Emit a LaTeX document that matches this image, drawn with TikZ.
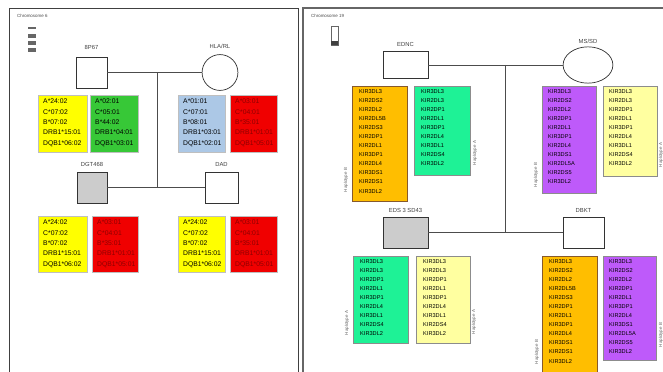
\documentclass[tikz,border=0pt]{standalone}
\usepackage{fontspec}
\setmainfont{Liberation Sans}
\usetikzlibrary{shapes.geometric, positioning}
\definecolor{hlayel}{RGB}{255,255,0}
\definecolor{hlagrn}{RGB}{55,200,55}
\definecolor{hlablu}{RGB}{172,200,230}
\definecolor{hlared}{RGB}{240,0,0}
\definecolor{kirorg}{RGB}{255,190,0}
\definecolor{kirtel}{RGB}{30,242,150}
\definecolor{kirpur}{RGB}{190,90,250}
\definecolor{kirlyl}{RGB}{255,255,160}

\begin{document}
\begin{tikzpicture}[x=0.03cm, y=-0.03cm, font=\fontsize{5}{6}\selectfont,
  pedline/.style={draw=black!70, line width=0.7pt},
  person/.style={draw=black!80, line width=0.6pt, fill=white, inner sep=0pt},
  hlabox/.style={draw=black!25, line width=0.3pt},
  kirbox/.style={draw=black!45, line width=0.4pt},
  hlarows/.style={anchor=north west, align=left, inner sep=0pt, font=\fontsize{5.8}{8.8}\selectfont},
  kirrows/.style={anchor=north west, align=left, inner sep=0pt, font=\fontsize{4.8}{7.75}\selectfont},
  vlab/.style={rotate=90, text=black!60, font=\fontsize{3.8}{4}\selectfont, inner sep=0pt},
  plab/.style={text=black!75, inner sep=0pt, font=\fontsize{5}{6}\selectfont}]
\useasboundingbox (0,0) rectangle (663,372);
% panels
\draw[black!75, line width=0.8pt] (9,372) -- (9,8) -- (298,8) -- (298,372);
\draw[black!60, line width=1.2pt] (303,372) -- (303,8) -- (663,8);
\node[anchor=west, text=black!70, font=\fontsize{3.8}{4}\selectfont] (t6) at (13,16) {Chromosome 6};
\node[anchor=west, text=black!70, font=\fontsize{3.8}{4}\selectfont] (t19) at (307,16) {Chromosome 19};
% legends
\fill[black!60] (28,27) rectangle (36,29);
\fill[black!60] (28,34) rectangle (36,38);
\fill[black!60] (28,41) rectangle (36,45);
\fill[black!60] (28,48) rectangle (36,52);
\draw[black!60, line width=0.4pt] (331,26) rectangle (338,45);
\fill[black!75] (331,41) rectangle (338,45);

%% Chromosome 6 (HLA)
\node[person, minimum width=26.4pt, minimum height=26.4pt] (fa6) at (91.5,72.5) {};
\node[person, circle, minimum size=30.6pt] (mo6) at (220,72.5) {};
\node[person, fill=black!20, minimum width=25.5pt, minimum height=26.4pt] (ch6a) at (92,187.5) {};
\node[person, minimum width=28pt, minimum height=26.4pt] (ch6b) at (221.5,187.5) {};
\node[plab, above=6pt of fa6] (fa6l) {8P67};
\node[plab, above=5pt of mo6] (mo6l) {HLA/RL};
\node[plab, above=4pt of ch6a] (ch6al) {DGT468};
\node[plab, above=4pt of ch6b] (ch6bl) {DAD};
\coordinate (top6) at (157,72.5);
\coordinate (bot6) at (157,187.5);
\draw[pedline] (fa6) -- (mo6);
\draw[pedline] (top6) -- (bot6);
\draw[pedline] (ch6a) -- (ch6b);

\draw[hlabox, fill=hlayel] (38,95) rectangle (87,152);
\node[hlarows] (fa6a) at (43,99) {A*24:02\\C*07:02\\B*07:02\\DRB1*15:01\\DQB1*06:02};
\draw[hlabox, fill=hlagrn] (90,95) rectangle (138,152);
\node[hlarows] (fa6b) at (95,99) {A*02:01\\C*05:01\\B*44:02\\DRB1*04:01\\DQB1*03:01};
\draw[hlabox, fill=hlablu] (178,95) rectangle (225,152);
\node[hlarows] (mo6a) at (183,99) {A*01:01\\C*07:01\\B*08:01\\DRB1*03:01\\DQB1*02:01};
\draw[hlabox, fill=hlared] (230,95) rectangle (277,152);
\node[hlarows, text=red!55!black] (mo6b) at (235,99) {A*03:01\\C*04:01\\B*35:01\\DRB1*01:01\\DQB1*05:01};

\draw[hlabox, fill=hlayel] (38,216) rectangle (87,272);
\node[hlarows] (ch6aa) at (43,220) {A*24:02\\C*07:02\\B*07:02\\DRB1*15:01\\DQB1*06:02};
\draw[hlabox, fill=hlared] (92,216) rectangle (138,272);
\node[hlarows, text=red!55!black] (ch6ab) at (97,220) {A*03:01\\C*04:01\\B*35:01\\DRB1*01:01\\DQB1*05:01};
\draw[hlabox, fill=hlayel] (178,216) rectangle (225,272);
\node[hlarows] (ch6ba) at (183,220) {A*24:02\\C*07:02\\B*07:02\\DRB1*15:01\\DQB1*06:02};
\draw[hlabox, fill=hlared] (230,216) rectangle (277,272);
\node[hlarows, text=red!55!black] (ch6bb) at (235,220) {A*03:01\\C*04:01\\B*35:01\\DRB1*01:01\\DQB1*05:01};

%% Chromosome 19 (KIR)
\node[person, minimum width=38.3pt, minimum height=23pt] (fa19) at (405.5,65) {};
\node[person, ellipse, minimum width=42.5pt, minimum height=31pt] (mo19) at (588,65) {};
\node[person, fill=black!20, minimum width=38.3pt, minimum height=26.4pt] (ch19a) at (405.5,232.5) {};
\node[person, minimum width=34.9pt, minimum height=26.4pt] (ch19b) at (583.5,232.5) {};
\node[plab, above=4pt of fa19] (fa19l) {EDNC};
\node[plab, above=2pt of mo19] (mo19l) {MS/SD};
\node[plab, above=3pt of ch19a] (ch19al) {EDS 3 SD43};
\node[plab, above=3pt of ch19b] (ch19bl) {DBKT};
\coordinate (top19) at (505,65);
\coordinate (bot19) at (505,232.5);
\draw[pedline] (fa19) -- (mo19);
\draw[pedline] (top19) -- (bot19);
\draw[pedline] (ch19a) -- (ch19b);

\draw[kirbox, draw=brown!70!black, fill=kirorg] (352,86) rectangle (407,201);
\node[kirrows] (fa19a) at (359,89) {KIR3DL3\\KIR2DS2\\KIR2DL2\\KIR2DL5B\\KIR2DS3\\KIR2DP1\\KIR2DL1\\KIR3DP1\\KIR2DL4\\KIR3DS1\\KIR2DS1\\KIR3DL2};
\node[vlab] (fa19al) at (346,180) {Haplotype B};
\draw[kirbox, fill=kirtel] (414,86) rectangle (470,175);
\node[kirrows] (fa19b) at (421,89) {KIR3DL3\\KIR2DL3\\KIR2DP1\\KIR2DL1\\KIR3DP1\\KIR2DL4\\KIR3DL1\\KIR2DS4\\KIR3DL2};
\node[vlab] (fa19bl) at (475,153) {Haplotype A};
\draw[kirbox, fill=kirpur] (542,86) rectangle (596,193);
\node[kirrows] (mo19a) at (548,89) {KIR3DL3\\KIR2DS2\\KIR2DL2\\KIR2DP1\\KIR2DL1\\KIR3DP1\\KIR2DL4\\KIR3DS1\\KIR2DL5A\\KIR2DS5\\KIR3DL2};
\node[vlab] (mo19al) at (536,175) {Haplotype B};
\draw[kirbox, fill=kirlyl] (603,86) rectangle (657,176);
\node[kirrows] (mo19b) at (609,89) {KIR3DL3\\KIR2DL3\\KIR2DP1\\KIR2DL1\\KIR3DP1\\KIR2DL4\\KIR3DL1\\KIR2DS4\\KIR3DL2};
\node[vlab] (mo19bl) at (661,155) {Haplotype A};

\draw[kirbox, fill=kirtel] (353,256) rectangle (408,343);
\node[kirrows] (ch19aa) at (360,259) {KIR3DL3\\KIR2DL3\\KIR2DP1\\KIR2DL1\\KIR3DP1\\KIR2DL4\\KIR3DL1\\KIR2DS4\\KIR3DL2};
\node[vlab] (ch19aal) at (347,323) {Haplotype A};
\draw[kirbox, fill=kirlyl] (416,256) rectangle (470,343);
\node[kirrows] (ch19ab) at (423,259) {KIR3DL3\\KIR2DL3\\KIR2DP1\\KIR2DL1\\KIR3DP1\\KIR2DL4\\KIR3DL1\\KIR2DS4\\KIR3DL2};
\node[vlab] (ch19abl) at (474,322) {Haplotype A};
\draw[kirbox, draw=brown!70!black, fill=kirorg] (542,256) rectangle (597,372);
\node[kirrows] (ch19ba) at (549,259) {KIR3DL3\\KIR2DS2\\KIR2DL2\\KIR2DL5B\\KIR2DS3\\KIR2DP1\\KIR2DL1\\KIR3DP1\\KIR2DL4\\KIR3DS1\\KIR2DS1\\KIR3DL2};
\node[vlab] (ch19bal) at (537,352) {Haplotype B};
\draw[kirbox, fill=kirpur] (603,256) rectangle (656,360);
\node[kirrows] (ch19bb) at (609,259) {KIR3DL3\\KIR2DS2\\KIR2DL2\\KIR2DP1\\KIR2DL1\\KIR3DP1\\KIR2DL4\\KIR3DS1\\KIR2DL5A\\KIR2DS5\\KIR3DL2};
\node[vlab] (ch19bbl) at (661,335) {Haplotype B};
\end{tikzpicture}
\end{document}
